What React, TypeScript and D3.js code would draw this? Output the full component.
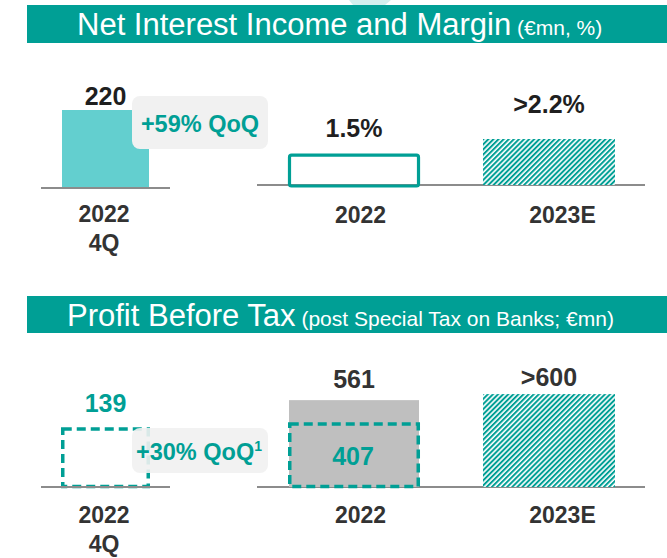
import React from 'react';
import * as d3 from 'd3';

// ---------- data ----------
const quarterCategories = ['2022 4Q'];
const quarterLabelLines = ['2022', '4Q'];

const niiQuarterValues = [220];
const niiQuarterLabels = ['220'];
const niiQoQ = '+59% QoQ';

const nimCategories = ['2022', '2023E'];
const nimValues = [1.5, 2.2];
const nimLabels = ['1.5%', '>2.2%'];

const pbtQuarterValues = [139];
const pbtQuarterLabels = ['139'];
const pbtQoQ = '+30% QoQ';
const pbtQoQNote = '1';

const pbtCategories = ['2022', '2023E'];
const pbtValues = [561, 600];
const pbtLabels = ['561', '>600'];
const pbtCoreValues = [407];
const pbtCoreLabels = ['407'];

const titles = [
  { main: 'Net Interest Income and Margin', sub: ' (€mn, %)' },
  { main: 'Profit Before Tax', sub: ' (post Special Tax on Banks; €mn)' },
];

// ---------- styles ----------
const TEAL = '#009f95';
const TEAL_LIGHT = '#63cfcf';
const GRAY_BAR = '#bfbfbf';
const AXIS = '#8c8c8c';
const BOX = '#f1f1f1';
const DARK = '#1f1f1f';
const LABEL = '#333333';
const FONT = '"Liberation Sans", Arial, Helvetica, sans-serif';

export default function App() {
  const W = 667;
  const H = 558;

  const xQ = d3.scaleBand().domain(quarterCategories).range([62, 149]).padding(0);
  const xR = d3.scaleBand().domain(nimCategories).range([288, 615]).paddingInner(0.323).paddingOuter(0);
  const xRP = d3.scaleBand().domain(pbtCategories).range([288, 615]).paddingInner(0.323).paddingOuter(0);
  const xRLabel = d3.scalePoint().domain(nimCategories).range([360.5, 562.5]);

  const yNiiQ = d3.scaleLinear().domain([0, 220]).range([188, 110]);
  const yNim = d3.scaleLinear().domain([0, 2.2]).range([185, 139]);
  const yPbtQ = d3.scaleLinear().domain([0, 139]).range([488, 429]);
  const yPbt = d3.scaleLinear().domain([0, 620]).range([487, 391]);

  const nimLabelOffsets = [17, 26];
  const pbtLabelOffsets = [12, 8];

  const valueFont = { fontFamily: FONT, fontWeight: 700, fontSize: 25 } as const;
  const catFont = { fontFamily: FONT, fontWeight: 700, fontSize: 23, fill: LABEL } as const;

  return (
    <svg width={W} height={H} style={{ position: 'absolute', left: 0, top: 0, background: '#fff' }}>
      <defs>
        <pattern id="hatch" patternUnits="userSpaceOnUse" width={3.6} height={3.6} patternTransform="rotate(45)">
          <rect width={3.6} height={3.6} fill="#ffffff" />
          <rect width={2} height={3.6} fill={TEAL} />
        </pattern>
      </defs>
      <rect width={W} height={H} fill="#ffffff" />

      {/* decorative shape */}
      <polygon points="349,0 391,0 385,5 353,5" fill="#d3efee" />

      {/* headers */}
      <rect x={27} y={5} width={640} height={38} fill={TEAL} />
      <text x={77} y={35} fill="#fff" fontFamily={FONT} fontSize={31}>
        {titles[0].main}
        <tspan fontSize={21}>{titles[0].sub}</tspan>
      </text>
      <rect x={27} y={296} width={640} height={37} fill={TEAL} />
      <text x={67} y={326} fill="#fff" fontFamily={FONT} fontSize={31}>
        {titles[1].main}
        <tspan fontSize={21}>{titles[1].sub}</tspan>
      </text>

      {/* ---- top left: NII quarter ---- */}
      {quarterCategories.map((c, i) => (
        <g key={'nq' + c}>
          <rect x={xQ(c)} y={yNiiQ(niiQuarterValues[i])} width={xQ.bandwidth()} height={yNiiQ(0) - yNiiQ(niiQuarterValues[i])} fill={TEAL_LIGHT} />
          <text x={xQ(c)! + xQ.bandwidth() / 2} y={yNiiQ(niiQuarterValues[i]) - 5} textAnchor="middle" fill={DARK} {...valueFont}>
            {niiQuarterLabels[i]}
          </text>
          {quarterLabelLines.map((l, j) => (
            <text key={l} x={xQ(c)! + xQ.bandwidth() / 2 - 1.5} y={222 + j * 29} textAnchor="middle" {...catFont}>{l}</text>
          ))}
        </g>
      ))}
      <line x1={41} x2={170} y1={188} y2={188} stroke={AXIS} strokeWidth={2} />
      <rect x={132} y={96} width={136} height={53} rx={8} fill={BOX} />
      <text x={200} y={132} textAnchor="middle" fill={TEAL} fontFamily={FONT} fontWeight={700} fontSize={23.5}>{niiQoQ}</text>

      {/* ---- top right: NIM ---- */}
      <line x1={257} x2={645} y1={185} y2={185} stroke={AXIS} strokeWidth={2} />
      {nimCategories.map((c, i) => {
        const x0 = xR(c)!;
        const bw = xR.bandwidth();
        const yv = yNim(nimValues[i]);
        return (
          <g key={'nim' + c}>
            {i === 0 ? (
              <rect x={x0 + 1.5} y={yv + 1.5} width={bw - 3} height={yNim(0) - yv - 0.5} rx={2} fill="none" stroke={TEAL} strokeWidth={3.2} />
            ) : (
              <rect x={x0} y={yv} width={bw} height={yNim(0) - yv} fill="url(#hatch)" />
            )}
            <text x={x0 + bw / 2} y={yv - nimLabelOffsets[i]} textAnchor="middle" fill={DARK} {...valueFont}>{nimLabels[i]}</text>
            <text x={xRLabel(c)} y={223} textAnchor="middle" {...catFont}>{c}</text>
          </g>
        );
      })}

      {/* ---- bottom left: PBT quarter ---- */}
      {quarterCategories.map((c, i) => (
        <g key={'pq' + c}>
          <rect x={xQ(c)! + 0.75} y={yPbtQ(pbtQuarterValues[i])} width={xQ.bandwidth() - 1.5} height={yPbtQ(0) - yPbtQ(pbtQuarterValues[i]) - 1.5} fill="none" stroke={TEAL} strokeWidth={3.5} strokeDasharray="9,5" />
          <text x={xQ(c)! + xQ.bandwidth() / 2} y={yPbtQ(pbtQuarterValues[i]) - 17} textAnchor="middle" fill={TEAL} {...valueFont}>
            {pbtQuarterLabels[i]}
          </text>
          {quarterLabelLines.map((l, j) => (
            <text key={l} x={xQ(c)! + xQ.bandwidth() / 2 - 1.5} y={523 + j * 29} textAnchor="middle" {...catFont}>{l}</text>
          ))}
        </g>
      ))}
      <line x1={41} x2={170} y1={487} y2={487} stroke={AXIS} strokeWidth={2} />
      <rect x={132} y={428} width={136} height={45} rx={8} fill={BOX} fillOpacity={0.9} />
      <text x={199} y={460} textAnchor="middle" fill={TEAL} fontFamily={FONT} fontWeight={700} fontSize={23.5}>
        {pbtQoQ}
        <tspan fontSize={14} dy={-9}>{pbtQoQNote}</tspan>
      </text>

      {/* ---- bottom right: PBT ---- */}
      <line x1={257} x2={645} y1={487} y2={487} stroke={AXIS} strokeWidth={2} />
      {pbtCategories.map((c, i) => {
        const x0 = xRP(c)!;
        const bw = xRP.bandwidth();
        const yv = yPbt(pbtValues[i]);
        return (
          <g key={'pbt' + c}>
            {i === 0 ? (
              <rect x={x0 + 1} y={yv} width={bw - 2} height={yPbt(0) - yv} fill={GRAY_BAR} />
            ) : (
              <rect x={x0} y={yv} width={bw} height={yPbt(0) - yv} fill="url(#hatch)" />
            )}
            <text x={x0 + bw / 2} y={yv - pbtLabelOffsets[i]} textAnchor="middle" fill={LABEL} {...valueFont}>{pbtLabels[i]}</text>
            <text x={xRLabel(c)} y={523} textAnchor="middle" {...catFont}>{c}</text>
          </g>
        );
      })}
      {pbtCoreValues.map((v, i) => {
        const c = pbtCategories[i];
        const x0 = xRP(c)!;
        const bw = xRP.bandwidth();
        const yv = yPbt(v);
        return (
          <g key={'core' + c}>
            <rect x={x0 + 1.75} y={yv} width={bw - 3.5} height={yPbt(0) - yv - 0.5} fill="none" stroke={TEAL} strokeWidth={3.5} strokeDasharray="9,5" />
            <text x={x0 + bw / 2 - 1} y={465} textAnchor="middle" fill={TEAL} {...valueFont}>{pbtCoreLabels[i]}</text>
          </g>
        );
      })}
    </svg>
  );
}
